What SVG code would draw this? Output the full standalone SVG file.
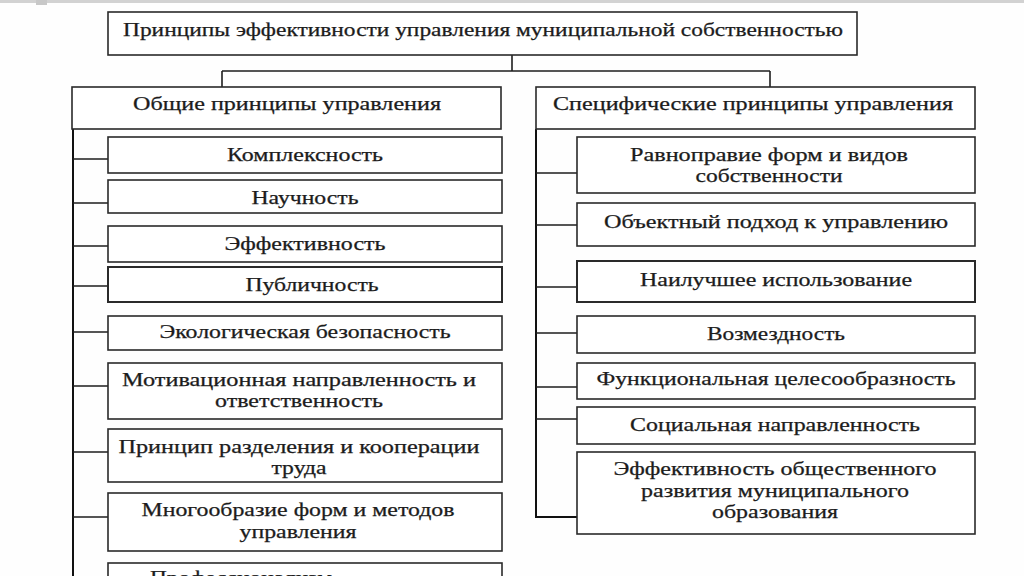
<svg xmlns="http://www.w3.org/2000/svg" width="1024" height="576" viewBox="0 0 1024 576">
<style>
.box{fill:#fff;stroke:#2a2a2a;stroke-width:1.6}
.t{font-family:"Liberation Serif","Times New Roman",serif;font-size:18px;fill:#1c1c1c;stroke:#1c1c1c;stroke-width:0.25;text-anchor:middle}
.c{fill:none;stroke:#1e1e1e;stroke-width:1.6}
.sp{fill:none;stroke:#111;stroke-width:2}
</style>
<rect x="0" y="0" width="1024" height="576" fill="#fefefe"/>
<rect x="0" y="0" width="1024" height="3" fill="#d2d2d2"/>
<rect x="36" y="0" width="11" height="5" fill="#c8c8c8"/>

<g id="connectors">
<path class="c" d="M512 55 V71 M222 71 H770 M222 71 V87 M770 71 V87"/>
<path class="sp" d="M73 129 V576"/>
<path class="sp" d="M536 129 V517 H577"/>
<path class="c" d="M73 159 H108 M73 203 H108 M73 246 H108 M73 286 H108 M73 332 H108 M73 386 H108 M73 452 H108 M73 517 H108"/>
<path class="c" d="M536 173 H577 M536 225 H577 M536 287 H577 M536 333 H577 M536 387 H577 M536 419 H577"/>
</g>

<g id="root"><rect class="box" x="108" y="12" width="749" height="43"/>
<text class="t" x="483" y="36" textLength="720" lengthAdjust="spacingAndGlyphs">Принципы эффективности управления муниципальной собственностью</text></g>

<g id="general"><rect class="box" x="72" y="87" width="429" height="42"/>
<text class="t" x="287" y="110" textLength="308" lengthAdjust="spacingAndGlyphs">Общие принципы управления</text></g>
<g id="specific"><rect class="box" x="536" y="87" width="439" height="42"/>
<text class="t" x="753" y="110" textLength="400" lengthAdjust="spacingAndGlyphs">Специфические принципы управления</text></g>

<g id="g1"><rect class="box" x="108" y="137" width="394" height="36"/>
<text class="t" x="305" y="161" textLength="156" lengthAdjust="spacingAndGlyphs">Комплексность</text></g>
<g id="g2"><rect class="box" x="108" y="180" width="394" height="33"/>
<text class="t" x="305" y="204" textLength="107" lengthAdjust="spacingAndGlyphs">Научность</text></g>
<g id="g3"><rect class="box" x="108" y="226" width="394" height="36"/>
<text class="t" x="305" y="250" textLength="161" lengthAdjust="spacingAndGlyphs">Эффективность</text></g>
<g id="g4"><rect class="box" x="108" y="267" width="394" height="35" style="stroke-width:2"/>
<text class="t" x="312" y="291" textLength="133" lengthAdjust="spacingAndGlyphs">Публичность</text></g>
<g id="g5"><rect class="box" x="108" y="316" width="394" height="34"/>
<text class="t" x="305" y="338" textLength="291" lengthAdjust="spacingAndGlyphs">Экологическая безопасность</text></g>
<g id="g6"><rect class="box" x="108" y="363" width="394" height="56"/>
<text class="t" x="299" y="386" textLength="354" lengthAdjust="spacingAndGlyphs">Мотивационная направленность и</text>
<text class="t" x="299" y="407" textLength="168" lengthAdjust="spacingAndGlyphs">ответственность</text></g>
<g id="g7"><rect class="box" x="108" y="429" width="394" height="53"/>
<text class="t" x="299" y="453" textLength="361" lengthAdjust="spacingAndGlyphs">Принцип разделения и кооперации</text>
<text class="t" x="299" y="474" textLength="55" lengthAdjust="spacingAndGlyphs">труда</text></g>
<g id="g8"><rect class="box" x="108" y="493" width="394" height="58"/>
<text class="t" x="298" y="516" textLength="313" lengthAdjust="spacingAndGlyphs">Многообразие форм и методов</text>
<text class="t" x="298" y="538" textLength="117" lengthAdjust="spacingAndGlyphs">управления</text></g>
<g id="g9"><rect class="box" x="108" y="563" width="394" height="40"/>
<text class="t" x="150" y="584" style="text-anchor:start;font-size:19px" textLength="182" lengthAdjust="spacingAndGlyphs">Профессионализм</text></g>

<g id="s1"><rect class="box" x="577" y="137" width="398" height="56"/>
<text class="t" x="769" y="161" textLength="278" lengthAdjust="spacingAndGlyphs">Равноправие форм и видов</text>
<text class="t" x="769" y="182" textLength="147" lengthAdjust="spacingAndGlyphs">собственности</text></g>
<g id="s2"><rect class="box" x="577" y="203" width="398" height="43"/>
<text class="t" x="776" y="228" textLength="344" lengthAdjust="spacingAndGlyphs">Объектный подход к управлению</text></g>
<g id="s3"><rect class="box" x="577" y="261" width="398" height="41" style="stroke-width:2"/>
<text class="t" x="776" y="286" textLength="272" lengthAdjust="spacingAndGlyphs">Наилучшее использование</text></g>
<g id="s4"><rect class="box" x="577" y="316" width="398" height="37"/>
<text class="t" x="776" y="340" textLength="138" lengthAdjust="spacingAndGlyphs">Возмездность</text></g>
<g id="s5"><rect class="box" x="577" y="363" width="398" height="36"/>
<text class="t" x="776" y="385" textLength="359" lengthAdjust="spacingAndGlyphs">Функциональная целесообразность</text></g>
<g id="s6"><rect class="box" x="577" y="407" width="398" height="37"/>
<text class="t" x="775" y="431" textLength="290" lengthAdjust="spacingAndGlyphs">Социальная направленность</text></g>
<g id="s7"><rect class="box" x="577" y="452" width="398" height="82"/>
<text class="t" x="775" y="475" textLength="323" lengthAdjust="spacingAndGlyphs">Эффективность общественного</text>
<text class="t" x="775" y="497" textLength="268" lengthAdjust="spacingAndGlyphs">развития муниципального</text>
<text class="t" x="775" y="518" textLength="126" lengthAdjust="spacingAndGlyphs">образования</text></g>
</svg>
